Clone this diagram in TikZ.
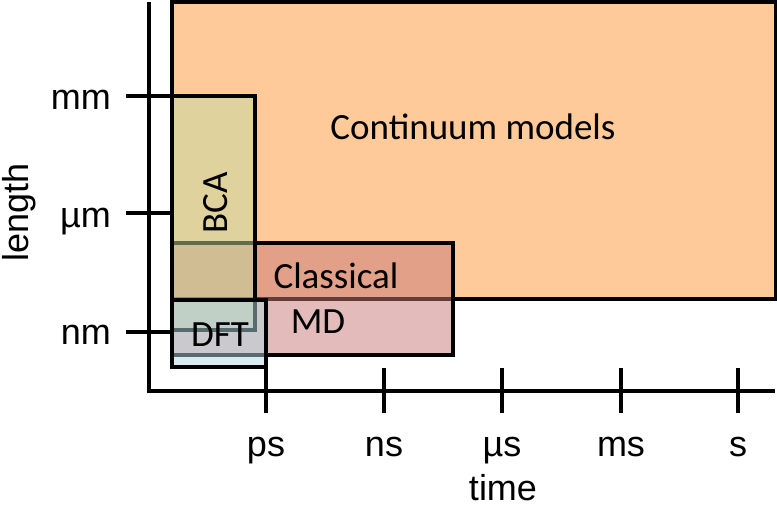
\documentclass[tikz,border=0pt]{standalone}
\usepackage{fontspec}
\setmainfont{Liberation Sans}
\newfontfamily\boxfont{Carlito}
\definecolor{contcol}{RGB}{255,202,153}
\definecolor{mdcol}{RGB}{200,120,120}
\definecolor{bcacol}{RGB}{193,218,159}
\definecolor{dftcol}{RGB}{177,215,225}
\begin{document}
\begin{tikzpicture}[x=1pt,y=-1pt,
  axisline/.style={line width=3.2pt},
  region/.style={draw=black,line width=3.2pt},
  translucent/.style={region,fill opacity=0.5},
  boxlabel/.style={font=\boxfont\fontsize{37}{40}\selectfont,inner sep=0pt},
  axlabel/.style={font=\fontsize{36}{40}\selectfont,inner sep=0pt}]
\useasboundingbox (0,0) rectangle (777,507);
% axes
\coordinate (top) at (149,2);
\coordinate (origin) at (149,391);
\coordinate (xend) at (775,391);
\draw[axisline] (top) -- (origin) -- (xend);
% y ticks
\foreach \y/\n in {96/mm,213/um,332/nm}{
  \coordinate (yt\n a) at (126,\y);
  \coordinate (yt\n b) at (172,\y);
  \draw[axisline] (yt\n a) -- (yt\n b);
}
% x ticks
\foreach \x/\n in {266/ps,384/ns,502/us,621/ms,738/s}{
  \coordinate (xt\n a) at (\x,368);
  \coordinate (xt\n b) at (\x,413);
  \draw[axisline] (xt\n a) -- (xt\n b);
}
% regions
\path[region,fill=contcol] (172,2) rectangle (775.5,299);
\path[translucent,fill=mdcol] (172,243) rectangle (453,355);
\path[translucent,fill=bcacol] (172,96) rectangle (255,330);
\path[translucent,fill=dftcol] (172,300) rectangle (266,367);
% region labels
\node[boxlabel,anchor=base] (cont) at (473,139) {Continuum models};
\node[boxlabel,anchor=base,rotate=90] (bca) at (227,203) {BCA};
\node[boxlabel,anchor=base] (classical) at (336,288) {Classical};
\node[boxlabel,anchor=base] (md) at (318,333) {MD};
\node[boxlabel,anchor=base] (dft) at (220,346) {DFT};
% axis labels
\node[axlabel,anchor=base east] (lmm) at (111,109) {mm};
\node[axlabel,anchor=base east] (lum) at (111,227) {µm};
\node[axlabel,anchor=base east] (lnm) at (111,344) {nm};
\node[axlabel,anchor=base,rotate=90] (llength) at (28,212) {length};
\node[axlabel,anchor=base] (lps) at (266,456) {ps};
\node[axlabel,anchor=base] (lns) at (384,456) {ns};
\node[axlabel,anchor=base] (lus) at (502,456) {µs};
\node[axlabel,anchor=base] (lms) at (621,456) {ms};
\node[axlabel,anchor=base] (ls) at (738,456) {s};
\node[axlabel,anchor=base] (ltime) at (503,500) {time};
\end{tikzpicture}
\end{document}
